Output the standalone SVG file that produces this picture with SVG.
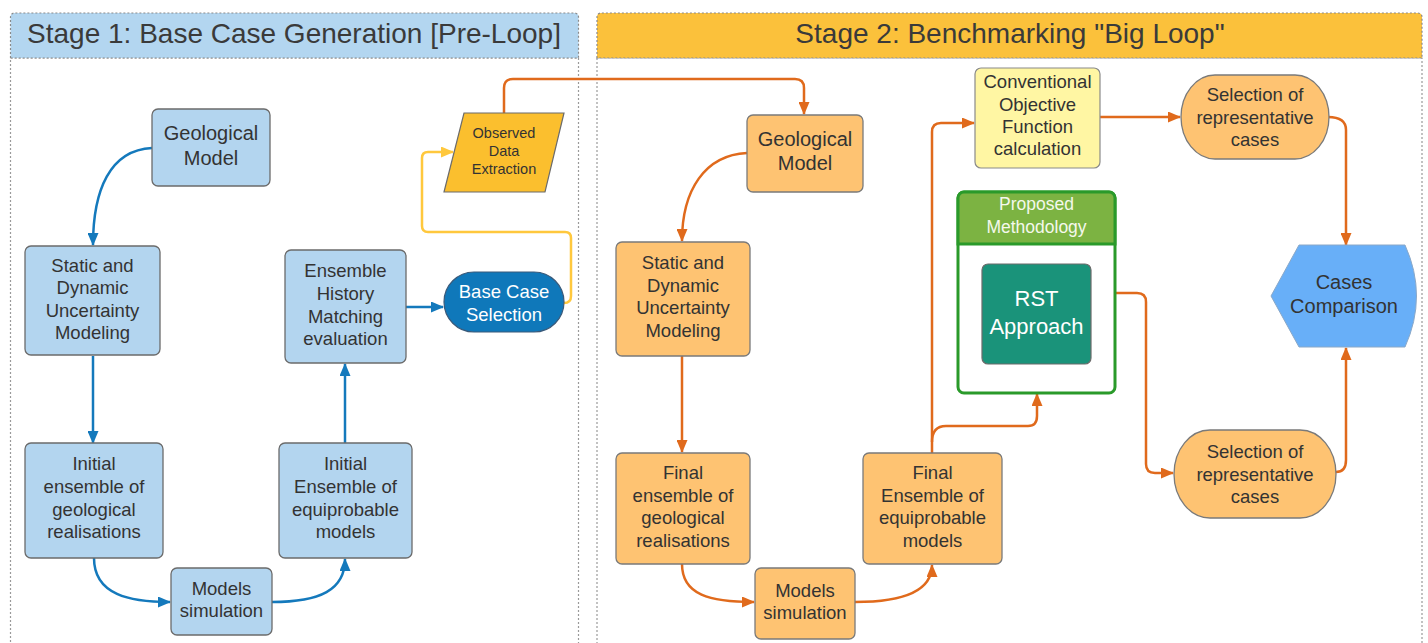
<svg xmlns="http://www.w3.org/2000/svg" width="1428" height="643" viewBox="0 0 1428 643">
<defs>
<style>
text{font-family:"Liberation Sans",Arial,sans-serif;fill:#333;text-anchor:middle}
.t{font-size:18.5px}
.g{font-size:20px}
.ttl{font-size:28px;fill:#3a3a3a}
.w{fill:#fff}
.blue{fill:#b3d5ef;stroke:#6b6b6b;stroke-width:1.3}
.org{fill:#fec372;stroke:#7a7a7a;stroke-width:1.3}
.dot{fill:none;stroke:#9a9a9a;stroke-width:1.2;stroke-dasharray:2 2}
.cb{fill:none;stroke:#1479bc;stroke-width:2.5;marker-end:url(#ab)}
.co{fill:none;stroke:#e06a1c;stroke-width:2.5;marker-end:url(#ao)}
.cy{fill:none;stroke:#ffc83d;stroke-width:2.5;marker-end:url(#ay)}
</style>
<marker id="ab" viewBox="0 0 13 11" refX="12" refY="5.5" markerWidth="13" markerHeight="11" markerUnits="userSpaceOnUse" orient="auto"><path d="M0,0L13,5.5L0,11Z" fill="#1479bc"/></marker>
<marker id="ao" viewBox="0 0 13 11" refX="12" refY="5.5" markerWidth="13" markerHeight="11" markerUnits="userSpaceOnUse" orient="auto"><path d="M0,0L13,5.5L0,11Z" fill="#e06a1c"/></marker>
<marker id="ay" viewBox="0 0 13 11" refX="12" refY="5.5" markerWidth="13" markerHeight="11" markerUnits="userSpaceOnUse" orient="auto"><path d="M0,0L13,5.5L0,11Z" fill="#ffc83d"/></marker>
</defs>
<rect width="1428" height="643" fill="#fff"/>

<g id="stage1">
<rect class="dot" x="10.5" y="58" width="568" height="600"/>
<path d="M10.5,58V17a4,4 0 0 1 4,-4H574.5a4,4 0 0 1 4,4V58Z" fill="#b3d6f0" stroke="#8a8a8a" stroke-width="1.2" stroke-dasharray="2 2"/>
<text class="ttl" x="294" y="43">Stage 1: Base Case Generation [Pre-Loop]</text>
</g>
<g id="stage2">
<rect class="dot" x="597" y="58" width="825" height="600"/>
<path d="M597,58V17a4,4 0 0 1 4,-4H1418a4,4 0 0 1 4,4V58Z" fill="#fbc13b" stroke="#8a8a8a" stroke-width="1.2" stroke-dasharray="2 2"/>
<text class="ttl" x="1010" y="43">Stage 2: Benchmarking "Big Loop"</text>
</g>

<g id="connectors">
<path class="cb" d="M152,148C110,150 93,190 93,245"/>
<path class="cb" d="M93,356L93,443"/>
<path class="cb" d="M94,558C94,595 130,602 170,602"/>
<path class="cb" d="M272,602C320,602 345,590 345,559"/>
<path class="cb" d="M345,443L345,364"/>
<path class="cb" d="M406,307L443,307"/>
<path class="cy" d="M564,303Q571,303 571,296L571,238Q571,232 565,232L428,232Q422,232 422,226L422,158Q422,152 428,152L453,152"/>
<path class="co" d="M504,113L504,88Q504,79 513,79L795,79Q804,79 804,88L804,114"/>
<path class="co" d="M747,153C705,155 682,190 682,241"/>
<path class="co" d="M682,356L682,452"/>
<path class="co" d="M682,564C682,595 710,602 754,602"/>
<path class="co" d="M855,602C905,602 932,590 932,565"/>
<path class="co" d="M932,453L932,132Q932,123 941,123L974,123"/>
<path class="co" d="M932,442Q932,426 946,426L1028,426Q1037,426 1037,416L1037,394"/>
<path class="co" d="M1100,117L1180,117"/>
<path class="co" d="M1328,117Q1346,117 1346,130L1346,245"/>
<path class="co" d="M1092,293L1137,293Q1146,293 1146,302L1146,464Q1146,473 1155,473L1173,473"/>
<path class="co" d="M1336,472Q1346,472 1346,460L1346,348"/>
</g>

<g id="geo1"><rect class="blue" x="152" y="109" width="118" height="77" rx="6"/>
<text class="g" x="211" y="140">Geological</text><text class="g" x="211" y="165">Model</text></g>

<g id="static1"><rect class="blue" x="25" y="246" width="135" height="109" rx="6"/>
<text class="t" x="92.5" y="272">Static and</text><text class="t" x="92.5" y="294">Dynamic</text><text class="t" x="92.5" y="317">Uncertainty</text><text class="t" x="92.5" y="339">Modeling</text></g>

<g id="initial1"><rect class="blue" x="25" y="443" width="138" height="115" rx="6"/>
<text class="t" x="94" y="470">Initial</text><text class="t" x="94" y="493">ensemble of</text><text class="t" x="94" y="516">geological</text><text class="t" x="94" y="538">realisations</text></g>

<g id="sim1"><rect class="blue" x="171" y="568" width="101" height="67" rx="6"/>
<text class="t" x="221.5" y="595">Models</text><text class="t" x="221.5" y="617">simulation</text></g>

<g id="initens1"><rect class="blue" x="279" y="443" width="133" height="115" rx="6"/>
<text class="t" x="345.5" y="470">Initial</text><text class="t" x="345.5" y="493">Ensemble of</text><text class="t" x="345.5" y="516">equiprobable</text><text class="t" x="345.5" y="538">models</text></g>

<g id="ehm1"><rect class="blue" x="285" y="250" width="121" height="113" rx="6"/>
<text class="t" x="345.5" y="277">Ensemble</text><text class="t" x="345.5" y="300">History</text><text class="t" x="345.5" y="323">Matching</text><text class="t" x="345.5" y="345">evaluation</text></g>

<g id="basecase"><rect x="444" y="272" width="120" height="60" rx="30" fill="#0f78ba" stroke="#3a5a7a" stroke-width="1.2"/>
<text class="t w" x="504" y="298">Base Case</text><text class="t w" x="504" y="321">Selection</text></g>

<g id="observed"><path d="M464,113L564,113L545,192L444,192Z" fill="#fbbf2e" stroke="#6b6b6b" stroke-width="1.2"/>
<text x="504" y="138" style="font-size:14.5px">Observed</text><text x="504" y="156" style="font-size:14.5px">Data</text><text x="504" y="174" style="font-size:14.5px">Extraction</text></g>

<g id="geo2"><rect class="org" x="747" y="115" width="116" height="77" rx="6"/>
<text class="g" x="805" y="146">Geological</text><text class="g" x="805" y="170">Model</text></g>

<g id="static2"><rect class="org" x="616" y="242" width="134" height="114" rx="6"/>
<text class="t" x="683" y="269">Static and</text><text class="t" x="683" y="292">Dynamic</text><text class="t" x="683" y="314">Uncertainty</text><text class="t" x="683" y="337">Modeling</text></g>

<g id="final2"><rect class="org" x="616" y="453" width="134" height="111" rx="6"/>
<text class="t" x="683" y="479">Final</text><text class="t" x="683" y="502">ensemble of</text><text class="t" x="683" y="524">geological</text><text class="t" x="683" y="547">realisations</text></g>

<g id="sim2"><rect class="org" x="755" y="568" width="100" height="71" rx="6"/>
<text class="t" x="805" y="597">Models</text><text class="t" x="805" y="619">simulation</text></g>

<g id="finalens2"><rect class="org" x="863" y="453" width="139" height="111" rx="6"/>
<text class="t" x="932.5" y="479">Final</text><text class="t" x="932.5" y="502">Ensemble of</text><text class="t" x="932.5" y="524">equiprobable</text><text class="t" x="932.5" y="547">models</text></g>

<g id="cof"><rect x="975" y="68" width="125" height="100" rx="6" fill="#fff6a3" stroke="#8a8a8a" stroke-width="1.2"/>
<text class="t" x="1037.5" y="88">Conventional</text><text class="t" x="1037.5" y="111">Objective</text><text class="t" x="1037.5" y="133">Function</text><text class="t" x="1037.5" y="155">calculation</text></g>

<g id="sel1"><rect class="org" x="1181" y="75" width="148" height="84" rx="34" ry="42"/>
<text class="t" x="1255" y="101">Selection of</text><text class="t" x="1255" y="124">representative</text><text class="t" x="1255" y="146">cases</text></g>

<g id="proposed"><rect x="958" y="192" width="157" height="201" rx="6" fill="#fff" stroke="#2a9a2a" stroke-width="3"/>
<path d="M958,244V198a6,6 0 0 1 6,-6H1109a6,6 0 0 1 6,6V244Z" fill="#7cb342" stroke="#2a9a2a" stroke-width="3"/>
<text x="1036.5" y="210" style="font-size:17.5px;fill:#f4f8ec">Proposed</text><text x="1036.5" y="233" style="font-size:17.5px;fill:#f4f8ec">Methodology</text></g>

<g id="rst"><rect x="982" y="264" width="109" height="100" rx="6" fill="#1a937a" stroke="#6b6b6b" stroke-width="1.2"/>
<text x="1036.5" y="306" style="font-size:22px;fill:#fff">RST</text><text x="1036.5" y="334" style="font-size:22px;fill:#fff">Approach</text></g>

<g id="sel2"><rect class="org" x="1174" y="430" width="162" height="88" rx="36" ry="44"/>
<text class="t" x="1255" y="458">Selection of</text><text class="t" x="1255" y="481">representative</text><text class="t" x="1255" y="503">cases</text></g>

<g id="cases"><path d="M1271,296L1299,245L1405,245Q1428,296 1405,347L1299,347Z" fill="#68aff8" stroke="#8aa8c8" stroke-width="1"/>
<text class="g" x="1344" y="289">Cases</text><text class="g" x="1344" y="313">Comparison</text></g>
</svg>
